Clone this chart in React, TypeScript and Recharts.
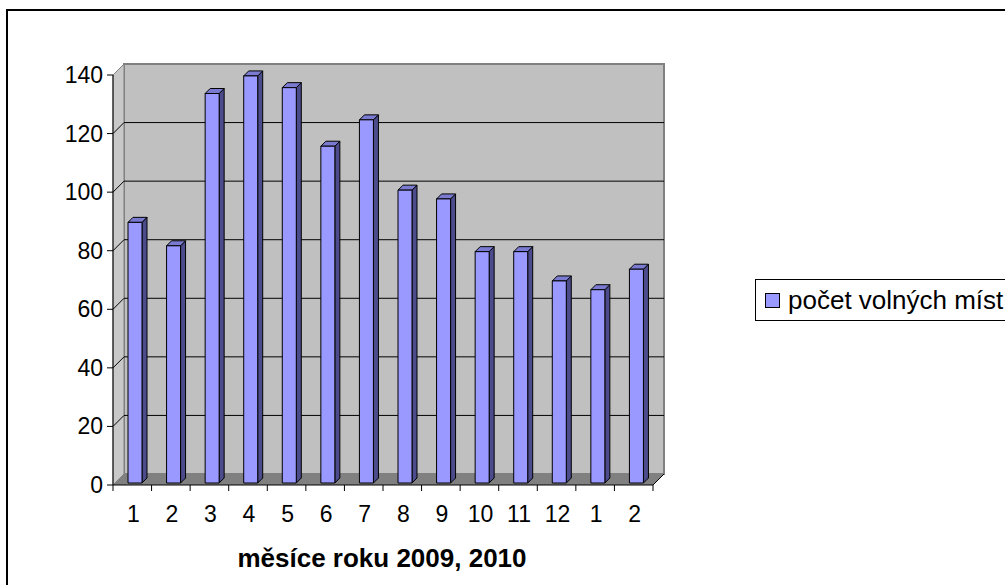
import { Bar, BarChart, CartesianGrid, XAxis, YAxis } from "recharts";

const monthKeys = ["m1", "m2", "m3", "m4", "m5", "m6", "m7", "m8", "m9", "m10", "m11", "m12", "m13", "m14"];
const monthLabels = ["1", "2", "3", "4", "5", "6", "7", "8", "9", "10", "11", "12", "1", "2"];
const freePlaces = [89, 81, 133, 139, 135, 115, 124, 100, 97, 79, 79, 69, 66, 73];
const yTicks = [0, 20, 40, 60, 80, 100, 120, 140];
const gridValues = [20, 40, 60, 80, 100, 120];

const data = monthKeys.map((k, i) => ({ key: k, label: monthLabels[i], value: freePlaces[i] }));

const W = 1005;
const H = 585;
const LEFT = 113;
const TOP = 75;
const PLOT_W = 540;
const PLOT_H = 410;
const D = 11; // depth of the 3d box
const FONT = "'Liberation Sans', Arial, sans-serif";

function Bar3D(props: any) {
  const { x, y, width, height } = props;
  if (height == null || height <= 0) return null;
  const fx = x + 3;
  const fy = y - 2;
  const d = 5;
  return (
    <g stroke="#000" strokeWidth={1} strokeLinejoin="round">
      <polygon
        points={`${fx + width},${fy} ${fx + width + d},${fy - d} ${fx + width + d},${fy + height - d} ${fx + width},${fy + height}`}
        fill="#4c4c8c"
      />
      <polygon
        points={`${fx},${fy} ${fx + d},${fy - d} ${fx + width + d},${fy - d} ${fx + width},${fy}`}
        fill="#7a7ad0"
      />
      <rect x={fx} y={fy} width={width} height={height} fill="#9999ff" />
    </g>
  );
}

function GridLine(props: any) {
  const { x1, x2, y1 } = props;
  return (
    <path
      key={`g-${y1}`}
      d={`M${x1},${y1} L${x1 + D},${y1 - D} L${x2 + D},${y1 - D}`}
      fill="none"
      stroke="#000"
      strokeWidth={1}
    />
  );
}

function MonthTick(props: any) {
  const { x, y, payload, index } = props;
  const half = payload?.offset ?? PLOT_W / monthKeys.length / 2;
  const last = index === monthKeys.length - 1;
  return (
    <g>
      <line x1={x - half} y1={y} x2={x - half} y2={y + 6} stroke="#000" />
      {last && <line x1={x + half} y1={y} x2={x + half} y2={y + 6} stroke="#000" />}
      {last && <line x1={x + half} y1={y} x2={x + half + D} y2={y - D} stroke="#000" />}
      <text x={x + 1} y={y + 37} textAnchor="middle" fontSize={23} fontFamily={FONT} fill="#000">
        {monthLabels[index]}
      </text>
    </g>
  );
}

function YTick(props: any) {
  const { x, y, payload } = props;
  return (
    <text x={x} y={y + 8} textAnchor="end" fontSize={23} fontFamily={FONT} fill="#000">
      {payload.value}
    </text>
  );
}

function AxisTitle(props: any) {
  const vb = props.viewBox || { x: LEFT, y: TOP + PLOT_H, width: PLOT_W };
  return (
    <text
      x={vb.x + vb.width / 2 - 1}
      y={vb.y + 82}
      textAnchor="middle"
      fontSize={26}
      fontWeight="bold"
      fontFamily={FONT}
      fill="#000"
    >
      měsíce roku 2009, 2010
    </text>
  );
}

function LegendBox() {
  return (
    <div
      style={{
        position: "absolute",
        left: 755,
        top: 279,
        border: "1px solid #000",
        background: "#fff",
        width: 262,
        height: 42,
        boxSizing: "border-box",
        display: "flex",
        alignItems: "center",
        fontFamily: FONT,
        fontSize: 26,
        color: "#000",
        whiteSpace: "nowrap",
      }}
    >
      <span
        style={{
          width: 13,
          height: 13,
          flex: "none",
          background: "#9999ff",
          border: "1px solid #000",
          marginLeft: 9,
          marginRight: 8,
        }}
      />
      <span>počet volných míst</span>
    </div>
  );
}

export default function App() {
  return (
    <div style={{ position: "absolute", left: 0, top: 0, width: W, height: H, background: "#fff", overflow: "hidden" }}>
      <svg width={W} height={H} style={{ position: "absolute", left: 0, top: 0 }}>
        <rect x={7} y={10} width={1200} height={800} fill="#fff" stroke="#000" strokeWidth={2} />
        <rect x={LEFT + D} y={TOP - D} width={PLOT_W} height={PLOT_H} fill="#c0c0c0" stroke="#808080" strokeWidth={2} />
        <polygon
          points={`${LEFT},${TOP} ${LEFT + D},${TOP - D} ${LEFT + D},${TOP + PLOT_H - D} ${LEFT},${TOP + PLOT_H}`}
          fill="#c8c8c8"
          stroke="#808080"
        />
        <polygon
          points={`${LEFT},${TOP + PLOT_H} ${LEFT + D},${TOP + PLOT_H - D} ${LEFT + PLOT_W + D},${TOP + PLOT_H - D} ${LEFT + PLOT_W},${TOP + PLOT_H}`}
          fill="#808080"
        />
      </svg>
      <div style={{ position: "absolute", left: 0, top: 0 }}>
        <BarChart
          width={W}
          height={H}
          data={data}
          margin={{ top: TOP, right: W - LEFT - PLOT_W, bottom: 15, left: 0 }}
          barCategoryGap={0}
        >
          <CartesianGrid
            vertical={false}
            horizontal={(p: any) => <GridLine {...p} />}
            horizontalValues={gridValues}
            stroke="#000"
          />
          <XAxis
            dataKey="key"
            height={85}
            axisLine={{ stroke: "#000" }}
            tickLine={false}
            tickSize={0}
            tickMargin={0}
            interval={0}
            tick={(p: any) => <MonthTick {...p} />}
            label={{ content: (p: any) => <AxisTitle {...p} /> }}
          />
          <YAxis
            width={LEFT}
            domain={[0, 140]}
            ticks={yTicks}
            interval={0}
            axisLine={{ stroke: "#000" }}
            tickLine={{ stroke: "#000" }}
            tickSize={6}
            tickMargin={4}
            tick={(p: any) => <YTick {...p} />}
          />
          <Bar dataKey="value" barSize={14} shape={(p: any) => <Bar3D {...p} />} isAnimationActive={false} />
        </BarChart>
      </div>
      <LegendBox />
    </div>
  );
}
